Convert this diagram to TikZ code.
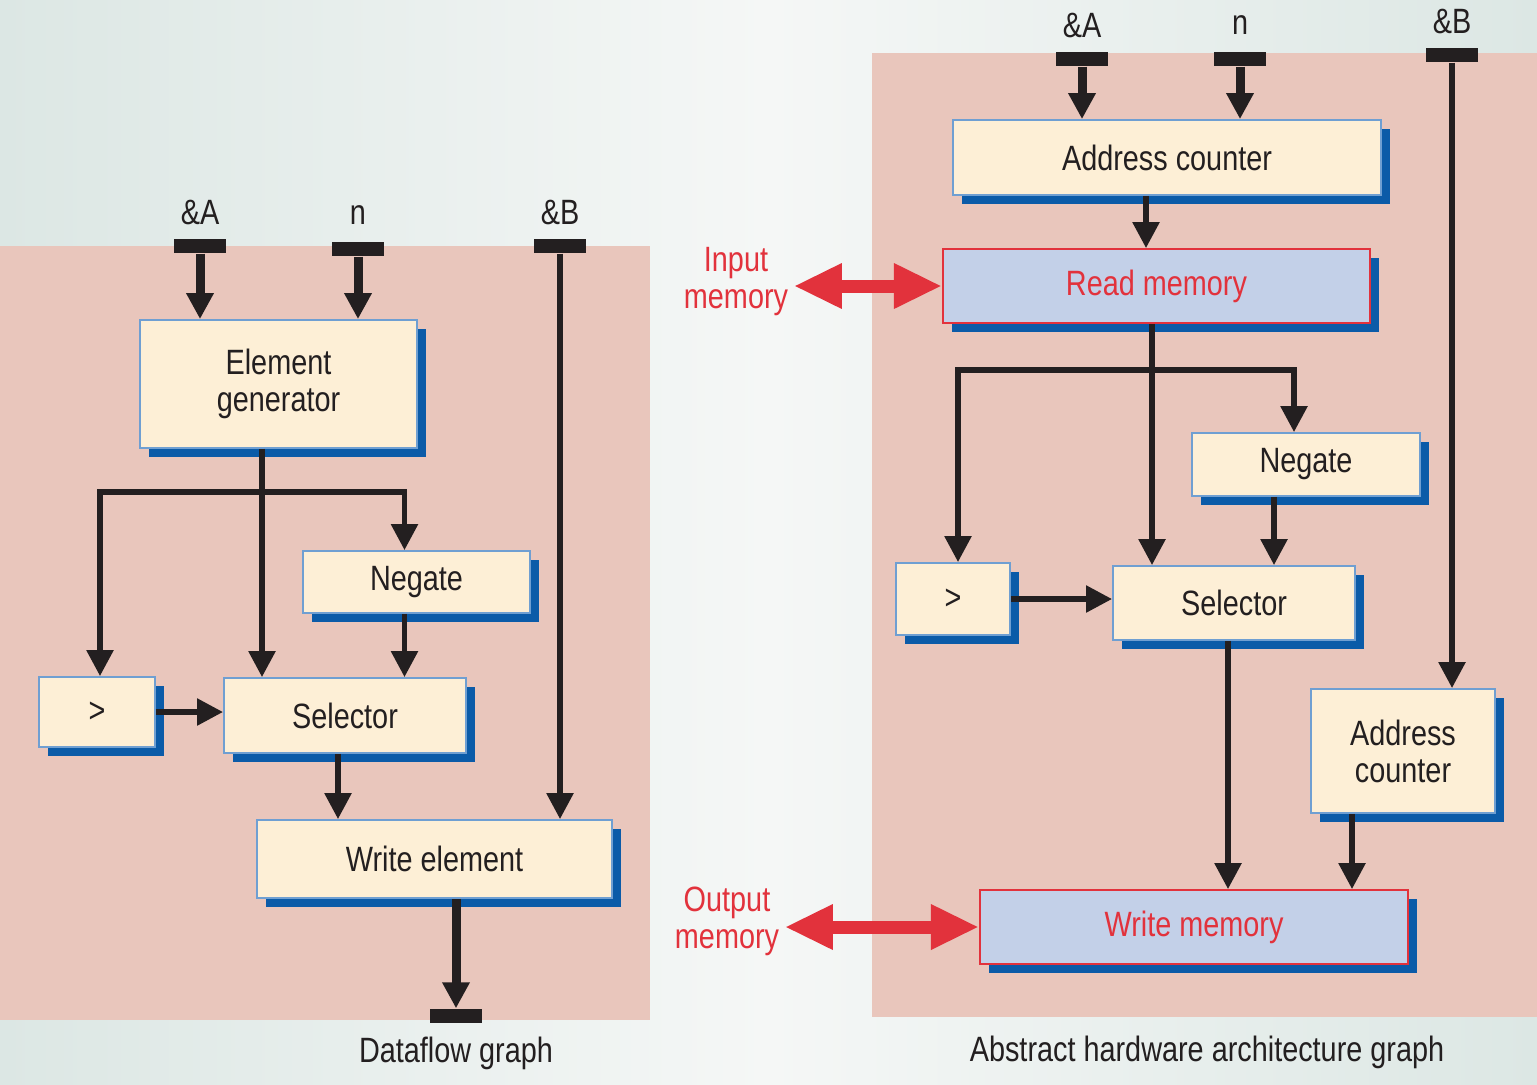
\documentclass[tikz,border=0pt]{standalone}
\usepackage{fontspec}
\setmainfont{Liberation Sans}[FakeStretch=0.82]
\usetikzlibrary{arrows.meta,shadows,calc}
\definecolor{bgside}{HTML}{DCE7E4}
\definecolor{bgmid}{HTML}{F5F7F6}
\definecolor{panel}{HTML}{E9C6BC}
\definecolor{cream}{HTML}{FDEFD6}
\definecolor{edgeblue}{HTML}{6F9FD2}
\definecolor{shadowblue}{HTML}{0B5BA8}
\definecolor{memfill}{HTML}{C3D0E8}
\definecolor{memred}{HTML}{E2323C}
\definecolor{ink}{HTML}{231F20}

\begin{document}
\begin{tikzpicture}[x=0.01cm, y=-0.01cm,
    font=\fontsize{10}{10.5}\selectfont, text=ink,
    blk/.style={draw=edgeblue, line width=0.5pt, fill=cream, align=center, inner sep=0pt,
      general shadow={fill=shadowblue, shadow xshift=0.09cm, shadow yshift=-0.09cm}},
    mem/.style={blk, draw=memred, fill=memfill, text=memred},
    port/.style={fill=ink, minimum width=0.52cm, minimum height=0.14cm, inner sep=0pt},
    lbl/.style={inner sep=0pt, align=center},
    wire/.style={draw=ink, line width=0.055cm},
    flow/.style={wire, -{Triangle[width=0.26cm,length=0.26cm]}},
    feed/.style={flow, line width=0.09cm},
    memio/.style={draw=memred, line width=0.13cm, shorten <=0.05cm,
      {Triangle[width=0.42cm,length=0.48cm]}-{Triangle[width=0.42cm,length=0.48cm]}},
  ]
  % background and panels
  \shade[left color=bgside, right color=bgside, middle color=bgmid] (0,0) rectangle (1537,1084);
  \fill[panel] (0,246) rectangle (650,1020);
  \fill[panel] (872,53) rectangle (1537,1017);

  % dataflow graph
  \node[blk, minimum width=2.77cm, minimum height=1.28cm] (elemgen) at (278.5,384) {Element\\generator};
  \node[blk, minimum width=2.27cm, minimum height=0.62cm] (negL) at (416.5,582) {Negate};
  \node[blk, minimum width=1.16cm, minimum height=0.70cm] (gtL) at (97,712) {>};
  \node[blk, minimum width=2.42cm, minimum height=0.75cm] (selL) at (345,715.5) {Selector};
  \node[blk, minimum width=3.55cm, minimum height=0.78cm] (writeL) at (434.5,859) {Write element};
  \node[port] (pOut) at (456,1016) {};
  \node[lbl] (capL) at (456,1053) {Dataflow graph};

  % hardware graph
  \node[blk, minimum width=4.28cm, minimum height=0.75cm] (addrR) at (1167,157.5) {Address counter};
  \node[mem, minimum width=4.27cm, minimum height=0.74cm] (readR) at (1156.5,286) {Read memory};
  \node[blk, minimum width=2.28cm, minimum height=0.63cm] (negR) at (1306,464.5) {Negate};
  \node[blk, minimum width=1.14cm, minimum height=0.72cm] (gtR) at (953,599) {>};
  \node[blk, minimum width=2.42cm, minimum height=0.74cm] (selR) at (1234,603) {Selector};
  \node[blk, minimum width=1.84cm, minimum height=1.24cm] (addr2R) at (1403,751) {Address\\counter};
  \node[mem, minimum width=4.28cm, minimum height=0.74cm] (writeR) at (1194,927) {Write memory};
  \node[lbl, text=memred] (inmem) at (736,282) {Input\\memory};
  \node[lbl, text=memred] (outmem) at (727,921) {Output\\memory};
  \node[lbl] (capR) at (1207,1052) {Abstract hardware architecture graph};

  % input ports
  \foreach \nm/\t/\x/\y in {AL/\&A/200/246, nL/n/358/249, BL/\&B/560/246,
      AR/\&A/1082/59, nR/n/1240/59, BR/\&B/1452/55} {
    \node[port] (p\nm) at (\x,\y) {};
    \node[lbl] (t\nm) at (\x,\y-34) {\t};
  }

  % dataflow connectors
  \coordinate (splitL) at (262,492);
  \coordinate (gtupL) at ($(gtL.north)+(3,0)$);
  \coordinate (negdnL) at ($(negL.south)+(-12,0)$);
  \coordinate (seldnL) at ($(selL.south)+(-7,0)$);
  \draw[feed] (pAL.south) -- (pAL.south |- elemgen.north);
  \draw[feed] (pnL.south) -- (pnL.south |- elemgen.north);
  \draw[wire] (elemgen.south -| splitL) -- (splitL);
  \draw[flow] (splitL) -- (splitL |- selL.north);
  \draw[flow] (splitL) -| (gtupL);
  \draw[flow] (splitL) -| (negdnL |- negL.north);
  \draw[flow] (negdnL) -- (negdnL |- selL.north);
  \draw[flow] (gtL.east) -- (gtL.east -| selL.west);
  \draw[flow] (seldnL) -- (seldnL |- writeL.north);
  \draw[flow] (pBL.south) -- (pBL.south |- writeL.north);
  \draw[feed] (writeL.south -| pOut) -- (pOut.north);

  % hardware connectors
  \coordinate (splitR) at (1152,370);
  \coordinate (acR) at ($(addrR.south)+(-21,0)$);
  \coordinate (gtupR) at ($(gtR.north)+(5,0)$);
  \coordinate (negdnR) at ($(negR.south)+(-32,0)$);
  \coordinate (seldnR) at ($(selR.south)+(-6,0)$);
  \coordinate (ac2R) at ($(addr2R.south)+(-51,0)$);
  \draw[feed] (pAR.south) -- (pAR.south |- addrR.north);
  \draw[feed] (pnR.south) -- (pnR.south |- addrR.north);
  \draw[flow] (acR) -- (acR |- readR.north);
  \draw[wire] (readR.south -| splitR) -- (splitR);
  \draw[flow] (splitR) -- (splitR |- selR.north);
  \draw[flow] (splitR) -| (gtupR);
  \draw[flow] (splitR) -| ($(negR.north)+(-12,0)$);
  \draw[flow] (negdnR) -- (negdnR |- selR.north);
  \draw[flow] (gtR.east) -- (gtR.east -| selR.west);
  \draw[flow] (seldnR) -- (seldnR |- writeR.north);
  \draw[flow] (ac2R) -- (ac2R |- writeR.north);
  \draw[flow] (pBR.south) -- (pBR.south |- addr2R.north);

  % memory links
  \draw[memio] (readR.west -| inmem.east) -- (readR.west);
  \draw[memio] (writeR.west -| outmem.east) -- (writeR.west);
\end{tikzpicture}
\end{document}
